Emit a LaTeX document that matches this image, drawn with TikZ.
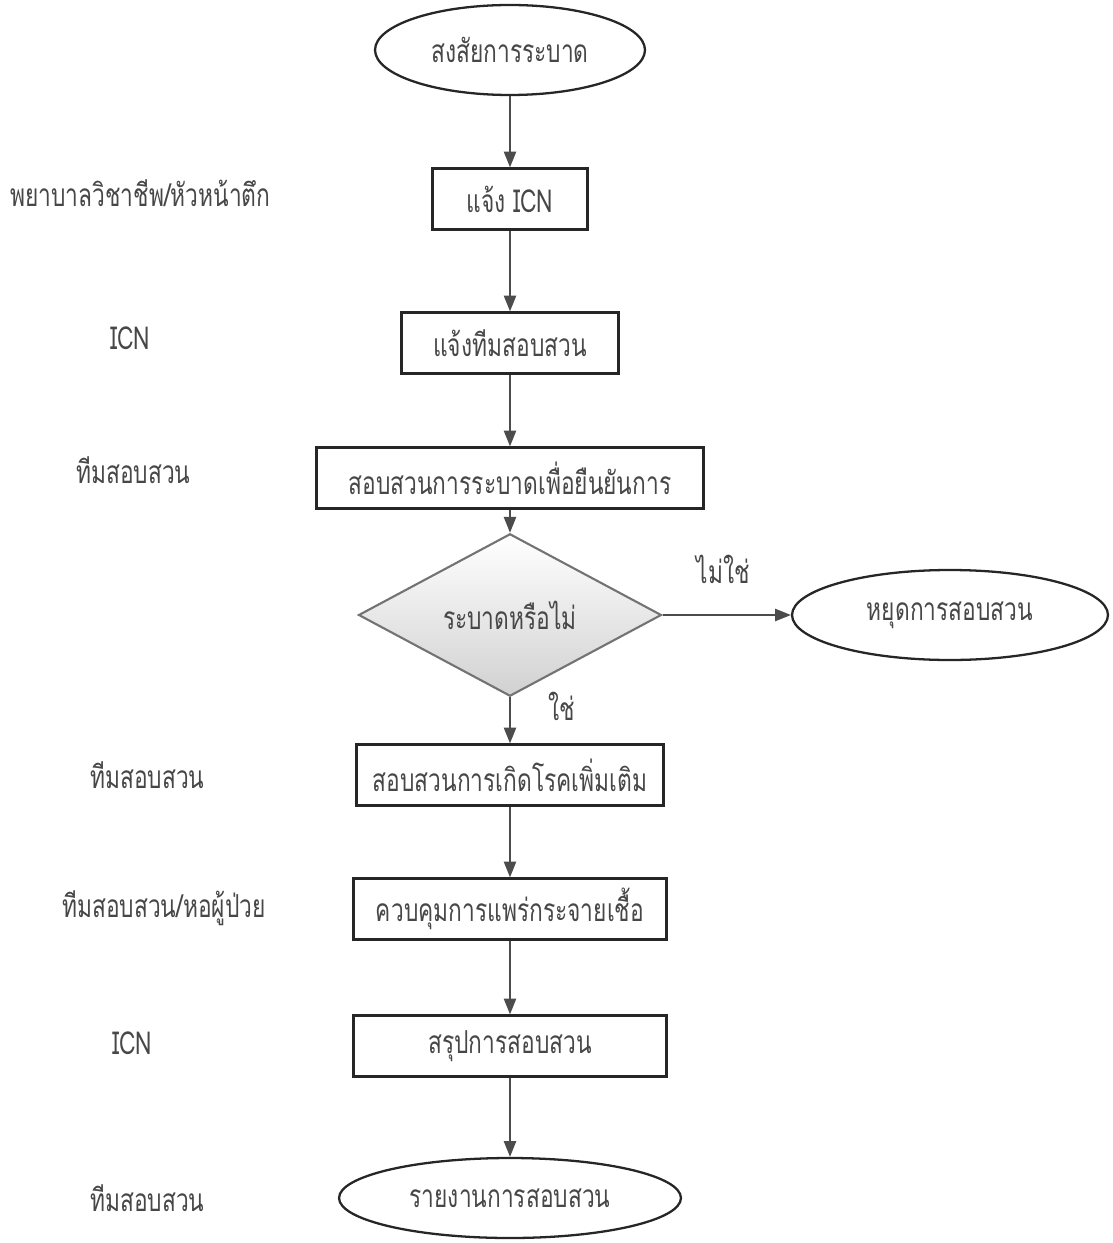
\documentclass[tikz,border=0pt]{standalone}
\usepackage{fontspec}
\newfontfamily\thaifont[Script=Thai, FakeStretch=0.72]{Loma}
\usetikzlibrary{positioning}
\usetikzlibrary{shapes.geometric}
\usetikzlibrary{arrows.meta}

\begin{document}
\begin{tikzpicture} [
            x=0.02cm, y=-0.02cm,
            every node/.style={font=\thaifont\fontsize{18}{20}\selectfont, text=black!72},
            stepbox/.style={draw=black!85, line width=1.3pt, minimum height=1.22cm, inner sep=2pt},
            endcap/.style={ellipse, draw=black!85, line width=1.3pt, minimum height=1.8cm, inner sep=0pt},
            choice/.style={diamond, draw=black!55, line width=1.2pt, top color=white, bottom color=black!18,
                minimum width=6.06cm, minimum height=2.26cm, inner sep=0pt},
            flow/.style={draw=black!70, line width=0.9pt, -{Triangle[length=9pt, width=7pt]}},
            role/.style={anchor=west}
        ]
        \useasboundingbox (0,0) rectangle (1112,1243);
        % flow steps
        \node[endcap, minimum width=5.4cm] (suspect) at (510,50) {สงสัยการระบาด};
        \node[stepbox, minimum width=3.1cm] (notifyicn) at (510,199) {แจ้ง ICN};
        \node[stepbox, minimum width=4.34cm] (notifyteam) at (510,343) {แจ้งทีมสอบสวน};
        \node[stepbox, minimum width=7.74cm] (confirm) at (510,478) {สอบสวนการระบาดเพื่อยืนยันการ};
        \node[choice] (isoutbreak) at (510,615) {ระบาดหรือไม่};
        \node[endcap, minimum width=6.32cm] (stop) at (950,615) {หยุดการสอบสวน};
        \node[stepbox, minimum width=6.14cm] (search) at (510,775) {สอบสวนการเกิดโรคเพิ่มเติม};
        \node[stepbox, minimum width=6.26cm] (control) at (510,909) {ควบคุมการแพร่กระจายเชื้อ};
        \node[stepbox, minimum width=6.26cm] (summary) at (510,1046) {สรุปการสอบสวน};
        \node[endcap, minimum width=6.84cm, minimum height=1.6cm] (report) at (510,1198) {รายงานการสอบสวน};

        % who does it
        \node[role] (r1) at (4,193) {พยาบาลวิชาชีพ/หัวหน้าตึก};
        \node[role] (r2) at (104,338) {ICN};
        \node[role] (r3) at (70,470) {ทีมสอบสวน};
        \node[role] (r4) at (84,775) {ทีมสอบสวน};
        \node[role] (r5) at (56,908) {ทีมสอบสวน/หอผู้ป่วย};
        \node[role] (r6) at (106,1043) {ICN};
        \node[role] (r7) at (84,1198) {ทีมสอบสวน};

        \draw[flow] (suspect) -- (notifyicn);
        \draw[flow] (notifyicn) -- (notifyteam);
        \draw[flow] (notifyteam) -- (confirm);
        \draw[flow] (confirm) -- (isoutbreak);
        \draw[flow] (isoutbreak) -- node[above=14pt, xshift=-2pt]{ไม่ใช่} (stop);
        \draw[flow] (isoutbreak) -- node[right=18pt, yshift=8pt]{ใช่} (search);
        \draw[flow] (search) -- (control);
        \draw[flow] (control) -- (summary);
        \draw[flow] (summary) -- (report);
    \end{tikzpicture}
\end{document}
